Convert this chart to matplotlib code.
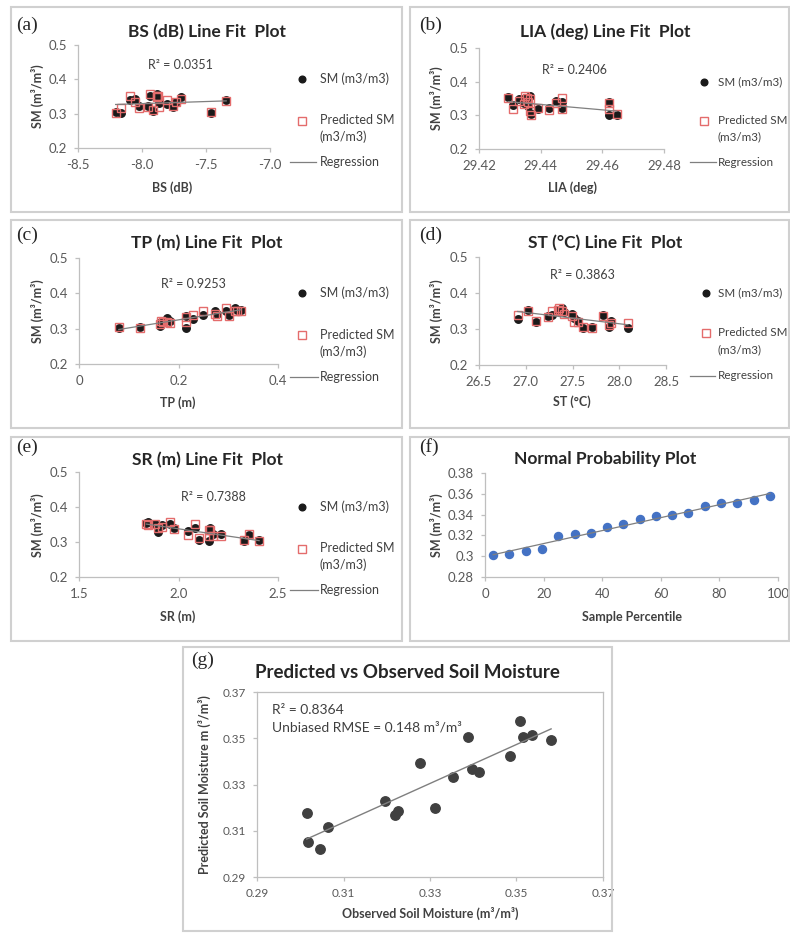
import numpy as np
import matplotlib
matplotlib.use('Agg')
import matplotlib.pyplot as plt
from matplotlib.lines import Line2D
from matplotlib.patches import Rectangle

plt.rcParams['font.family'] = ['Lato', 'DejaVu Sans']

W, H = 790, 934

# ---------------- data (18 samples, ordered by observed SM) ----------------
sm_obs = [0.3015, 0.3018, 0.3046, 0.3065, 0.3197, 0.3218, 0.3227, 0.3277, 0.3311,
          0.3353, 0.3388, 0.3398, 0.3414, 0.3486, 0.3508, 0.3515, 0.3536, 0.3580]
sm_pred = [0.3177, 0.3051, 0.3021, 0.3118, 0.3230, 0.3170, 0.3185, 0.3393, 0.3198,
           0.3332, 0.3505, 0.3366, 0.3354, 0.3425, 0.3573, 0.3504, 0.3514, 0.3492]
bs_db = [-8.166, -7.463, -8.206, -7.917, -7.759, -8.024, -7.952, -7.805, -7.866,
         -7.738, -8.091, -7.342, -8.051, -7.698, -7.939, -7.875, -7.885, -7.880]
lia_deg = [29.4622, 29.4647, 29.4368, 29.4366, 29.4390, 29.4426, 29.4470, 29.4360, 29.4310,
           29.4345, 29.4470, 29.4622, 29.4450, 29.4330, 29.4350, 29.4355, 29.4295, 29.4365]
tp_m = [0.216, 0.080, 0.122, 0.162, 0.164, 0.182, 0.168, 0.230, 0.176,
        0.216, 0.249, 0.301, 0.277, 0.273, 0.296, 0.318, 0.326, 0.313]
st_c = [28.093, 27.611, 27.707, 27.886, 27.111, 27.914, 27.564, 26.914, 27.511,
        27.236, 27.279, 27.825, 27.493, 27.414, 27.360, 27.021, 27.343, 27.386]
sr_m = [2.152, 2.327, 2.405, 2.105, 2.355, 2.213, 2.172, 1.897, 2.047,
        2.152, 2.085, 1.975, 2.160, 1.917, 1.955, 1.883, 1.838, 1.845]

percentile = [2.78, 8.33, 13.89, 19.44, 25.0, 30.56, 36.11, 41.67, 47.22,
              52.78, 58.33, 63.89, 69.44, 75.0, 80.56, 86.11, 91.67, 97.22]

titles = ["BS (dB) Line Fit  Plot", "LIA (deg) Line Fit  Plot", "TP (m) Line Fit  Plot",
          "ST (\u00b0C) Line Fit  Plot", "SR (m) Line Fit  Plot"]
xlabels = ["BS (dB)", "LIA (deg)", "TP (m)", "ST (\u00b0C)", "SR (m)"]
r2_texts = ["R\u00b2 = 0.0351", "R\u00b2 = 0.2406", "R\u00b2 = 0.9253", "R\u00b2 = 0.3863", "R\u00b2 = 0.7388"]
letters = ["(a)", "(b)", "(c)", "(d)", "(e)", "(f)", "(g)"]

xticks_a = [-8.5, -8.0, -7.5, -7.0]
xticklabels_a = ["-8.5", "-8.0", "-7.5", "-7.0"]
xticks_b = [29.42, 29.44, 29.46, 29.48]
xticklabels_b = ["29.42", "29.44", "29.46", "29.48"]
xticks_c = [0, 0.2, 0.4]
xticklabels_c = ["0", "0.2", "0.4"]
xticks_d = [26.5, 27.0, 27.5, 28.0, 28.5]
xticklabels_d = ["26.5", "27.0", "27.5", "28.0", "28.5"]
xticks_e = [1.5, 2.0, 2.5]
xticklabels_e = ["1.5", "2.0", "2.5"]
yticks_fit = [0.2, 0.3, 0.4, 0.5]
yticklabels_fit = ["0.2", "0.3", "0.4", "0.5"]

xticks_f = [0, 20, 40, 60, 80, 100]
xticklabels_f = ["0", "20", "40", "60", "80", "100"]
yticks_f = [0.28, 0.30, 0.32, 0.34, 0.36, 0.38]
yticklabels_f = ["0.28", "0.3", "0.32", "0.34", "0.36", "0.38"]

ticks_g = [0.29, 0.31, 0.33, 0.35, 0.37]
ticklabels_g = ["0.29", "0.31", "0.33", "0.35", "0.37"]

# ---------------- figure ----------------
fig = plt.figure(figsize=(W / 100, H / 100), dpi=100)
fig.patch.set_facecolor('white')

GRAY_AX = '#bfbfbf'
TXT = '#595959'
TXT_DARK = '#404040'
FS_TICK = 9.5
FS_LEG = 9
FS_LAB = 9
FS_TITLE = 12.5


def fx(x):
    return x / W


def fy(y):
    return 1 - y / H


def add_ax(x0, y0, x1, y1):
    return fig.add_axes([fx(x0), fy(y1), (x1 - x0) / W, (y1 - y0) / H])


def ftext(x, y, s, **kw):
    return fig.text(fx(x), fy(y), s, **kw)


def box(x0, y0, x1, y1):
    fig.add_artist(Rectangle((fx(x0), fy(y1)), (x1 - x0) / W, (y1 - y0) / H,
                             transform=fig.transFigure, fill=False,
                             edgecolor='#d0d0d0', linewidth=1.5))


def style(ax, full=False):
    for s in ['top', 'right']:
        ax.spines[s].set_visible(full)
    for s in ax.spines.values():
        s.set_color(GRAY_AX)
        s.set_linewidth(0.9)
    ax.tick_params(colors=GRAY_AX, labelcolor=TXT, labelsize=FS_TICK, length=3,
                   width=0.9, direction='out')
    ax.tick_params(axis='x', pad=5)
    ax.tick_params(axis='y', pad=5)
    ax.patch.set_alpha(0)


# panel boxes
box(11, 7, 402, 212)
box(410, 7, 789, 212)
box(11, 220, 402, 428)
box(410, 220, 789, 428)
box(11, 437, 402, 641)
box(410, 437, 789, 641)
box(183, 647, 612, 931)

fit_panels = [
    dict(x=bs_db, xt=xticks_a, xtl=xticklabels_a, ax=(78, 45, 270, 148), title=(207, 32),
         letter=(16, 25), r2=(180, 65), xlab=(172, 188), ylab=(37, 96),
         leg=(302, 320, 79, 120, 137, 162, 290, 316), lfs=FS_LEG),
    dict(x=lia_deg, xt=xticks_b, xtl=xticklabels_b, ax=(479, 48, 664, 149), title=(605, 32),
         letter=(419, 25), r2=(575, 70), xlab=(572, 188), ylab=(436, 98),
         leg=(704, 718, 82, 120, 137, 162, 690, 716), lfs=8.4),
    dict(x=tp_m, xt=xticks_c, xtl=xticklabels_c, ax=(79, 258, 278, 364), title=(207, 243),
         letter=(16, 235), r2=(193, 284), xlab=(178, 403), ylab=(37, 311),
         leg=(302, 320, 293, 335, 352, 377, 290, 318), lfs=FS_LEG),
    dict(x=st_c, xt=xticks_d, xtl=xticklabels_d, ax=(479, 257, 666, 365), title=(605, 243),
         letter=(419, 235), r2=(582, 275), xlab=(572, 402), ylab=(436, 311),
         leg=(706, 718, 293, 333, 350, 376, 690, 715), lfs=8.4),
    dict(x=sr_m, xt=xticks_e, xtl=xticklabels_e, ax=(79, 472, 278, 577), title=(207, 460),
         letter=(16, 447), r2=(213, 497), xlab=(178, 617), ylab=(37, 525),
         leg=(302, 320, 507, 548, 565, 590, 290, 318), lfs=FS_LEG),
]

y_obs = np.array(sm_obs)
for i, p in enumerate(fit_panels):
    ax = add_ax(*p['ax'])
    style(ax)
    xv = np.array(p['x'])
    ax.plot(xv, y_obs, 'o', color='#1a1a1a', ms=5.4, zorder=3)
    ax.plot(xv, sm_pred, 's', mfc='none', mec='#e46c6c', mew=1.0, ms=5.8, zorder=4)
    k, b = np.polyfit(xv, y_obs, 1)
    xl = np.array([xv.min(), xv.max()])
    ax.plot(xl, k * xl + b, '-', color='#7f7f7f', lw=0.9, zorder=5)
    ax.set_xlim(p['xt'][0], p['xt'][-1])
    ax.set_ylim(0.2, 0.5)
    ax.set_xticks(p['xt'], p['xtl'])
    ax.set_yticks(yticks_fit, yticklabels_fit)
    ftext(*p['title'], titles[i], ha='center', va='center', fontsize=FS_TITLE,
          fontweight='bold', color='#262626')
    ftext(*p['letter'], letters[i], ha='left', va='center', fontsize=14,
          family='Liberation Serif', color='#262626')
    ftext(*p['r2'], r2_texts[i], ha='center', va='center', fontsize=FS_LEG, color=TXT_DARK)
    ftext(*p['xlab'], xlabels[i], ha='center', va='center', fontsize=FS_LAB,
          fontweight='bold', color=TXT_DARK)
    ftext(*p['ylab'], "SM (m\u00b3/m\u00b3)", ha='center', va='center', fontsize=FS_LAB,
          fontweight='bold', color=TXT_DARK, rotation=90)
    mx, tx, ysm, yp1, yp2, yreg, lx0, lx1 = p['leg']
    lfs = p['lfs']
    fig.add_artist(Line2D([fx(mx)], [fy(ysm)], transform=fig.transFigure, marker='o',
                          color='#1a1a1a', ms=4.8, ls='none'))
    fig.add_artist(Line2D([fx(mx)], [fy((yp1 + yp2) / 2 - 8)], transform=fig.transFigure,
                          marker='s', mfc='none', mec='#e46c6c', mew=1.0, ms=5.5, ls='none'))
    fig.add_artist(Line2D([fx(lx0), fx(lx1)], [fy(yreg), fy(yreg)], transform=fig.transFigure,
                          color='#7f7f7f', lw=0.9))
    ftext(tx, ysm, "SM (m3/m3)", ha='left', va='center', fontsize=lfs, color=TXT_DARK)
    ftext(tx, yp1, "Predicted SM", ha='left', va='center', fontsize=lfs, color=TXT_DARK)
    ftext(tx, yp2, "(m3/m3)", ha='left', va='center', fontsize=lfs, color=TXT_DARK)
    ftext(tx, yreg, "Regression", ha='left', va='center', fontsize=lfs, color=TXT_DARK)

# ---------------- (f) normal probability plot ----------------
axf = add_ax(485, 473, 778, 577)
style(axf)
pv = np.array(percentile)
axf.plot(pv, y_obs, 'o', color='#4472c4', ms=5.8, zorder=3)
k, b = np.polyfit(pv, y_obs, 1)
xl = np.array([pv.min(), pv.max()])
axf.plot(xl, k * xl + b, '-', color='#7f7f7f', lw=0.9, zorder=4)
axf.set_xlim(0, 100)
axf.set_ylim(0.28, 0.38)
axf.set_xticks(xticks_f, xticklabels_f)
axf.set_yticks(yticks_f, yticklabels_f)
ftext(605, 459, "Normal Probability Plot", ha='center', va='center', fontsize=FS_TITLE,
      fontweight='bold', color='#262626')
ftext(419, 447, letters[5], ha='left', va='center', fontsize=14,
      family='Liberation Serif', color='#262626')
ftext(632, 617, "Sample Percentile", ha='center', va='center', fontsize=FS_LAB,
      fontweight='bold', color=TXT_DARK)
ftext(436, 525, "SM (m\u00b3/m\u00b3)", ha='center', va='center', fontsize=FS_LAB,
      fontweight='bold', color=TXT_DARK, rotation=90)

# ---------------- (g) predicted vs observed ----------------
axg = add_ax(257, 692, 603, 877)
style(axg, full=True)
pr = np.array(sm_pred)
axg.plot(y_obs, pr, 'o', color='#404040', ms=6.8, zorder=3)
k, b = np.polyfit(y_obs, pr, 1)
xl = np.array([y_obs.min(), y_obs.max()])
axg.plot(xl, k * xl + b, '-', color='#7f7f7f', lw=1.0, zorder=4)
axg.set_xlim(0.29, 0.37)
axg.set_ylim(0.29, 0.37)
axg.set_xticks(ticks_g, ticklabels_g)
axg.set_yticks(ticks_g, ticklabels_g)
axg.tick_params(labelsize=8.5)
ftext(407, 672, "Predicted vs Observed Soil Moisture", ha='center', va='center',
      fontsize=13.5, fontweight='bold', color='#262626')
ftext(191, 660, letters[6], ha='left', va='center', fontsize=14,
      family='Liberation Serif', color='#262626')
ftext(272, 710, "R\u00b2 = 0.8364", ha='left', va='center', fontsize=10, color=TXT_DARK)
ftext(272, 727, "Unbiased RMSE = 0.148 m\u00b3/m\u00b3", ha='left', va='center',
      fontsize=10, color=TXT_DARK)
ftext(430, 913, "Observed Soil Moisture (m\u00b3/m\u00b3)", ha='center', va='center',
      fontsize=FS_LAB, fontweight='bold', color=TXT_DARK)
ftext(204, 785, "Predicted Soil Moisture m (\u00b3/m\u00b3)", ha='center', va='center',
      fontsize=FS_LAB, fontweight='bold', color=TXT_DARK, rotation=90)

fig.savefig('out.png', dpi=100, facecolor='white')
